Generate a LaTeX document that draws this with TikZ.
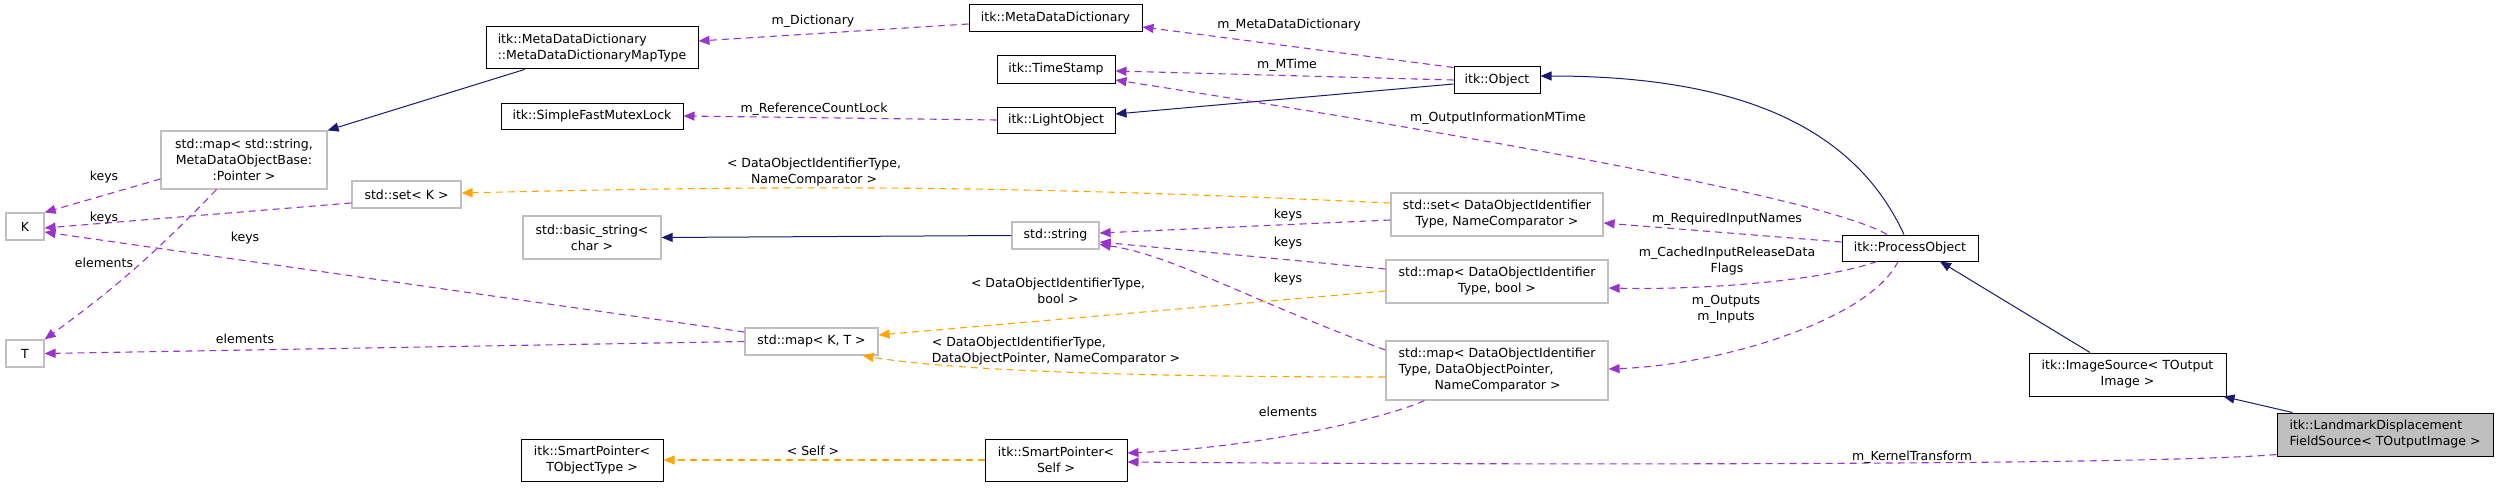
\documentclass[tikz,border=0pt]{standalone}
\usepackage{fontspec}
\setmainfont{DejaVu Sans}
\usetikzlibrary{arrows.meta, calc}

\definecolor{edgepurple}{HTML}{9A32CD}
\definecolor{edgeorange}{HTML}{FFA500}
\definecolor{edgenavy}{HTML}{191970}
\definecolor{boxgray}{HTML}{BFBFBF}

\tikzset{
  cls/.style={draw=black, fill=white, line width=1pt, inner sep=0pt, align=center,
    font=\fontsize{12.5}{16}\selectfont},
  undoc/.style={cls, draw=boxgray, line width=1.2pt},
  lbl/.style={inner sep=0pt, align=center, font=\fontsize{12.5}{16}\selectfont},
  inherit/.style={edgenavy, line width=1pt, -{Triangle[length=11pt, width=9pt]}},
  member/.style={edgepurple, line width=1.1pt, dash pattern=on 7pt off 5pt,
    -{Triangle[length=11pt, width=9pt]}},
  tmpl/.style={edgeorange, line width=1.1pt, dash pattern=on 7pt off 5pt,
    -{Triangle[length=11pt, width=9pt]}},
}

\begin{document}
\begin{tikzpicture}[x=1pt, y=-1pt]
  \useasboundingbox (0,0) rectangle (2499,487);
  % template arguments and std containers
  \node[undoc, minimum width=38pt, minimum height=27pt] (K) at (25,226.5) {K};
  \node[undoc, minimum width=38pt, minimum height=27pt] (T) at (25,353.5) {T};
  \node[undoc, minimum width=166pt, minimum height=58pt] (mapStr) at (244,160)
    {std::map< std::string,\\MetaDataObjectBase:\\:Pointer >};
  \node[undoc, minimum width=109pt, minimum height=27pt] (setK) at (406.5,194.5) {std::set< K >};
  \node[undoc, minimum width=138pt, minimum height=43pt] (basicStr) at (592,237.5)
    {std::basic\_string<\\char >};
  \node[undoc, minimum width=133pt, minimum height=27pt] (mapKT) at (811.5,341.5) {std::map< K, T >};
  \node[undoc, minimum width=87pt, minimum height=27pt] (stdStr) at (1055.5,235.5) {std::string};
  \node[undoc, minimum width=212pt, minimum height=43pt] (setDOI) at (1497,214.5)
    {std::set< DataObjectIdentifier\\Type, NameComparator >};
  \node[undoc, minimum width=222pt, minimum height=43pt] (mapBool) at (1497,281.5)
    {std::map< DataObjectIdentifier\\Type, bool >};
  \node[undoc, minimum width=222pt, minimum height=59pt, align=left] (mapPtr) at (1497,370.5)
    {std::map< DataObjectIdentifier\\Type, DataObjectPointer,\\\hspace*{36pt}NameComparator >};
  % itk classes
  \node[cls, minimum width=212pt, minimum height=42pt, align=left] (mapType) at (592,48)
    {itk::MetaDataDictionary\\::MetaDataDictionaryMapType};
  \node[cls, minimum width=182pt, minimum height=26pt] (mutex) at (592,116) {itk::SimpleFastMutexLock};
  \node[cls, minimum width=142pt, minimum height=42pt] (spTObj) at (592,460)
    {itk::SmartPointer<\\TObjectType >};
  \node[cls, minimum width=173pt, minimum height=27pt] (mdd) at (1055.5,18.5) {itk::MetaDataDictionary};
  \node[cls, minimum width=118pt, minimum height=27pt] (timeStamp) at (1056,69.5) {itk::TimeStamp};
  \node[cls, minimum width=118pt, minimum height=26pt] (light) at (1056,120) {itk::LightObject};
  \node[cls, minimum width=142pt, minimum height=42pt] (spSelf) at (1056,460)
    {itk::SmartPointer<\\Self >};
  \node[cls, minimum width=86pt, minimum height=26pt] (object) at (1497,80) {itk::Object};
  \node[cls, minimum width=136pt, minimum height=26pt] (process) at (1910,248) {itk::ProcessObject};
  \node[cls, minimum width=197pt, minimum height=43pt] (imgSrc) at (2127.5,374.5)
    {itk::ImageSource< TOutput\\Image >};
  \node[cls, fill=boxgray, minimum width=216pt, minimum height=43pt, align=left] (landmark) at (2385,434.5)
    {itk::LandmarkDisplacement\\FieldSource< TOutputImage >};

  % inheritance
  \draw[inherit] ($(mapType.south west)+(39,0)$) -- (mapStr.north east);
  \draw[inherit] (stdStr.west) -- (basicStr.east);
  \draw[inherit] ($(object.west)+(0,4)$) -- ($(light.east)+(0,-6)$);
  \draw[inherit] ($(process.north)+(-6,0)$) .. controls +(-44,-95) and +(220,0) .. ($(object.east)+(0,-4)$);
  \draw[inherit] ($(imgSrc.north)+(-37.5,0)$) -- ($(process.south)+(30,0)$);
  \draw[inherit] ($(landmark.north west)+(16,0)$) -- ($(imgSrc.south east)+(-3,0)$);

  % members
  \draw[member] ($(mapStr.west)+(0,19)$) -- (K.north east);
  \draw[member] ($(mapStr.south west)+(56,0)$) to[bend left=5] (T.north east);
  \draw[member] ($(setK.west)+(0,8.5)$) -- ($(K.east)+(0,1.5)$);
  \draw[member] ($(mapKT.west)+(0,-9.5)$) -- ($(K.east)+(0,5.5)$);
  \draw[member] (mapKT.west) -- (T.east);
  \draw[member] ($(mdd.west)+(0,5.5)$) -- ($(mapType.east)+(0,-7)$);
  \draw[member] (light.west) -- (mutex.east);
  \draw[member] ($(object.north west)+(0,1)$) -- ($(mdd.east)+(0,8.5)$);
  \draw[member] (object.west) -- ($(timeStamp.east)+(0,1.5)$);
  \draw[member] ($(process.north)+(-23,0)$) .. controls +(-57,-34) and +(385,60) .. ($(timeStamp.east)+(0,10.5)$);
  \draw[member] ($(process.west)+(0,-6)$) -- ($(setDOI.east)+(0,8.5)$);
  \draw[member] ($(process.south)+(-33,0)$) .. controls +(-57,20) and +(92,2) .. ($(mapBool.east)+(0,6.5)$);
  \draw[member] ($(process.south)+(-12,0)$) .. controls +(-28,58) and +(112,-4) .. ($(mapPtr.east)+(0,-1.5)$);
  \draw[member] ($(setDOI.west)+(0,5.5)$) -- ($(stdStr.east)+(0,-2.5)$);
  \draw[member] ($(mapBool.west)+(0,-12.5)$) -- ($(stdStr.east)+(0,6.5)$);
  \draw[member] ($(mapPtr.west)+(0,-20.5)$) .. controls +(-136,-50) and +(71,10) .. ($(stdStr.east)+(0,9)$);
  \draw[member] ($(mapPtr.south west)+(39,0)$) .. controls +(-45,20) and +(123,-5) .. ($(spSelf.east)+(0,-7)$);
  \draw[member] ($(landmark.south west)+(0,-2)$) .. controls +(-127,11) and +(373,3) .. ($(spSelf.east)+(0,2)$);

  % template instances
  \draw[tmpl] ($(setDOI.west)+(0,-11.5)$) to[bend right=2] ($(setK.east)+(0,-1.5)$);
  \draw[tmpl] ($(mapBool.west)+(0,9.5)$) -- ($(mapKT.east)+(0,-6.5)$);
  \draw[tmpl] ($(mapPtr.west)+(0,6.5)$) .. controls +(-250,0) and +(90,15) .. ($(mapKT.south east)+(-16,0)$);
  \draw[tmpl] (spSelf.west) -- (spTObj.east);

  % edge labels
  \node[lbl] (lKeysA) at (104,177) {keys};
  \node[lbl] (lKeysB) at (104,218) {keys};
  \node[lbl] (lKeysC) at (245,238) {keys};
  \node[lbl] (lElemA) at (104,263) {elements};
  \node[lbl] (lElemB) at (245,339) {elements};
  \node[lbl] (lDict) at (813,21) {m\_Dictionary};
  \node[lbl] (lLock) at (814,109) {m\_ReferenceCountLock};
  \node[lbl] (lSetArgs) at (814,172) {< DataObjectIdentifierType,\\NameComparator >};
  \node[lbl] (lSelf) at (813,451) {< Self >};
  \node[lbl] (lMdd) at (1289,25) {m\_MetaDataDictionary};
  \node[lbl] (lMTime) at (1287,65) {m\_MTime};
  \node[lbl] (lOutTime) at (1498,118) {m\_OutputInformationMTime};
  \node[lbl] (lKeysD) at (1288,215) {keys};
  \node[lbl] (lKeysE) at (1288,243) {keys};
  \node[lbl] (lKeysF) at (1288,279) {keys};
  \node[lbl] (lElemC) at (1288,412) {elements};
  \node[lbl] (lBoolArgs) at (1058,291) {< DataObjectIdentifierType,\\bool >};
  \node[lbl, align=left] (lPtrArgs) at (1056,351)
    {< DataObjectIdentifierType,\\DataObjectPointer, NameComparator >};
  \node[lbl] (lReq) at (1727,219) {m\_RequiredInputNames};
  \node[lbl] (lCached) at (1727,261) {m\_CachedInputReleaseData\\Flags};
  \node[lbl] (lInOut) at (1726,309) {m\_Outputs\\m\_Inputs};
  \node[lbl] (lKernel) at (1912,457) {m\_KernelTransform};
\end{tikzpicture}
\end{document}
